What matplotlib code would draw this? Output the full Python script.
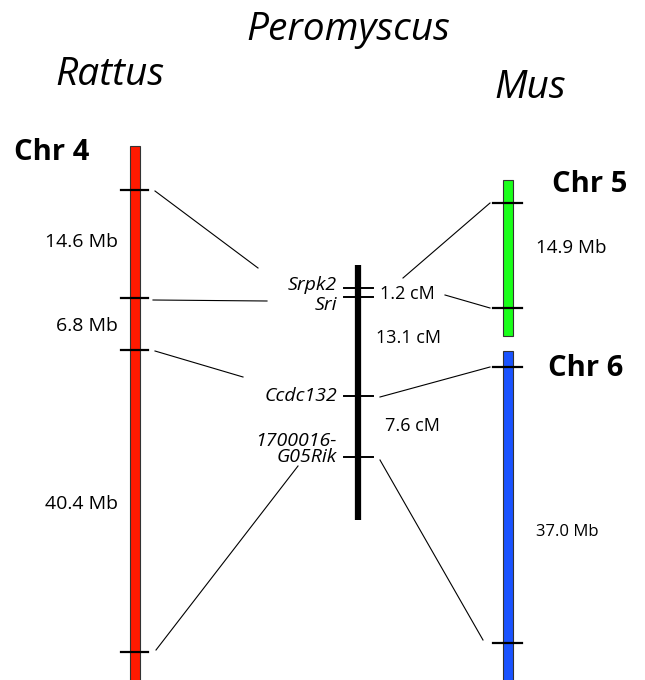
import matplotlib.pyplot as plt
from matplotlib.patches import Rectangle

plt.rcParams['font.family'] = ['Open Sans', 'DejaVu Sans']

# chromosome bars: (x_left, x_right, y_top, y_bottom, colour)
rattus_bar = (130, 140, 146, 682, '#ff1a00')
mus5_bar = (503, 513, 180, 336, '#1aff1a')
mus6_bar = (503, 513, 351, 682, '#1a53ff')

# marker positions along each chromosome (y)
rattus_ticks = [190, 298, 350, 652]
mus_ticks = [203, 308, 367, 643]
pero_ticks = [288, 297, 396, 457]
pero_span = (265, 520)

# connector lines: (x0, y0, x1, y1)
rattus_links = [(155, 191, 258, 268), (153, 300, 267, 301),
                (155, 351, 243, 377), (156, 650, 298, 466)]
mus_links = [(490, 203, 403, 278), (490, 308, 445, 295),
             (490, 367, 380, 397), (483, 640, 380, 460)]

rattus_sizes = ['14.6 Mb', '6.8 Mb', '40.4 Mb']
rattus_size_y = [242, 326, 504]
mus_sizes = ['14.9 Mb', '37.0 Mb']
mus_size_y = [248, 532]
cm_labels = ['1.2 cM', '13.1 cM', '7.6 cM']
cm_pos = [(380, 294), (376, 338), (385, 426)]
genes = ['Srpk2', 'Sri', 'Ccdc132', '1700016-\nG05Rik']
gene_y = [285, 305, 396, 449]

fig = plt.figure(figsize=(6.45, 6.8), dpi=100)
ax = fig.add_axes([0, 0, 1, 1])
ax.set_xlim(0, 645)
ax.set_ylim(680, 0)
ax.axis('off')

for x0, x1, y0, y1, c in [rattus_bar, mus5_bar, mus6_bar]:
    ax.add_patch(Rectangle((x0, y0), x1 - x0, y1 - y0, facecolor=c,
                           edgecolor='#333333', lw=0.8))

for y in rattus_ticks:
    ax.plot([121, 148], [y, y], color='black', lw=1.6)
for y in mus_ticks:
    ax.plot([493, 522], [y, y], color='black', lw=1.6)

ax.plot([358, 358], pero_span, color='black', lw=4.5, solid_capstyle='butt')
for y in pero_ticks:
    ax.plot([344, 373], [y, y], color='black', lw=1.4)

for x0, y0, x1, y1 in rattus_links + mus_links:
    ax.plot([x0, x1], [y0, y1], color='black', lw=0.8)

ax.text(348, 30, 'Peromyscus', fontsize=28, style='italic', ha='center', va='center')
ax.text(110, 75, 'Rattus', fontsize=28, style='italic', ha='center', va='center')
ax.text(530, 88, 'Mus', fontsize=28, style='italic', ha='center', va='center')

ax.text(14, 152, 'Chr 4', fontsize=21, fontweight='bold', ha='left', va='center')
ax.text(552, 185, 'Chr 5', fontsize=21, fontweight='bold', ha='left', va='center')
ax.text(548, 368, 'Chr 6', fontsize=21, fontweight='bold', ha='left', va='center')

for s, y in zip(rattus_sizes, rattus_size_y):
    ax.text(118, y, s, fontsize=14, ha='right', va='center')
for s, y, fs in zip(mus_sizes, mus_size_y, [13.5, 12]):
    ax.text(536, y, s, fontsize=fs, ha='left', va='center')
for s, (x, y) in zip(cm_labels, cm_pos):
    ax.text(x, y, s, fontsize=13, ha='left', va='center')
for g, y in zip(genes, gene_y):
    ax.text(337, y, g, fontsize=14, style='italic', ha='right', va='center',
            linespacing=0.9)

fig.savefig('out.png', dpi=100)
